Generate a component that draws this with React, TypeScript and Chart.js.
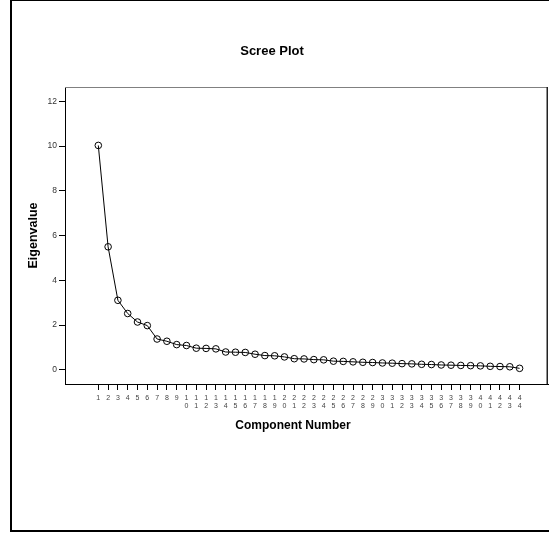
import { useEffect, useRef } from "react";
import { Chart, registerables } from "chart.js";

Chart.register(...registerables);

const chartTitle = "Scree Plot";
const xAxisTitle = "Component Number";
const yAxisTitle = "Eigenvalue";

const components = [
  1, 2, 3, 4, 5, 6, 7, 8, 9, 10, 11, 12, 13, 14, 15, 16, 17, 18, 19, 20, 21, 22,
  23, 24, 25, 26, 27, 28, 29, 30, 31, 32, 33, 34, 35, 36, 37, 38, 39, 40, 41, 42, 43, 44,
];

const eigenvalues = [
  10.03, 5.5, 3.11, 2.52, 2.14, 1.98, 1.38, 1.28, 1.13, 1.09, 0.97, 0.96, 0.94, 0.8,
  0.79, 0.78, 0.7, 0.64, 0.63, 0.58, 0.5, 0.49, 0.46, 0.45, 0.39, 0.38, 0.36, 0.34,
  0.33, 0.31, 0.3, 0.28, 0.27, 0.25, 0.24, 0.22, 0.21, 0.2, 0.19, 0.18, 0.16, 0.15,
  0.14, 0.07,
];

const yTicks = [0, 2, 4, 6, 8, 10, 12];

const FONT = "'Liberation Sans', Arial, Helvetica, sans-serif";

export default function App() {
  const canvasRef = useRef<HTMLCanvasElement | null>(null);

  useEffect(() => {
    const canvas = canvasRef.current;
    if (!canvas) return;

    const framePlugin = {
      id: "frameAndTitles",
      afterDraw(chart: any) {
        const { ctx, chartArea } = chart;
        const { left, top, right, bottom } = chartArea;
        ctx.save();
        // keep the area under the frame's bottom-right corner clean
        ctx.fillStyle = "#fff";
        ctx.fillRect(right - 4, bottom + 1, 6, 10);
        // top edge (grey) and right edge (dark) of the plot frame
        ctx.strokeStyle = "#808080";
        ctx.lineWidth = 1;
        ctx.beginPath();
        ctx.moveTo(left, top + 0.5);
        ctx.lineTo(right, top + 0.5);
        ctx.stroke();
        ctx.strokeStyle = "#222";
        ctx.lineWidth = 1.5;
        ctx.beginPath();
        ctx.moveTo(right - 0.75, top);
        ctx.lineTo(right - 0.75, bottom);
        ctx.stroke();

        ctx.fillStyle = "#000";
        ctx.textAlign = "center";
        ctx.textBaseline = "middle";
        ctx.font = `bold 13px ${FONT}`;
        ctx.fillText(chartTitle, 272, 51);
        ctx.font = `bold 12px ${FONT}`;
        ctx.fillText(xAxisTitle, 293, 425.5);
        ctx.translate(34, 235.5);
        ctx.rotate(-Math.PI / 2);
        ctx.font = `bold 12.5px ${FONT}`;
        ctx.fillText(yAxisTitle, 0, 0);
        ctx.restore();
      },
    };

    const chart = new Chart(canvas, {
      type: "line",
      data: {
        datasets: [
          {
            data: components.map((c, i) => ({ x: c, y: eigenvalues[i] })),
            borderColor: "#000",
            borderWidth: 1,
            tension: 0,
            pointRadius: 3.3,
            pointBorderWidth: 1,
            pointBorderColor: "#000",
            pointBackgroundColor: "rgba(0,0,0,0)",
            fill: false,
          },
        ],
      },
      options: {
        responsive: false,
        animation: false,
        events: [],
        layout: { autoPadding: false, padding: { top: 87, left: 0, right: 1, bottom: 0 } },
        plugins: {
          legend: { display: false },
          title: { display: false },
          tooltip: { enabled: false },
        },
        scales: {
          x: {
            type: "linear",
            min: -2.4,
            max: 46.9,
            afterBuildTicks: (scale: any) => {
              scale.ticks = components.map((v) => ({ value: v }));
            },
            afterFit: (scale: any) => {
              scale.height = 149;
            },
            ticks: {
              autoSkip: false,
              maxRotation: 0,
              minRotation: 0,
              padding: 4,
              color: "#444",
              font: { family: FONT, size: 7, lineHeight: 1.15 },
              callback: (value: any) => String(value).split(""),
            },
            grid: {
              drawOnChartArea: false,
              drawTicks: true,
              tickLength: 6,
              color: "#000",
              lineWidth: 1,
            },
            border: { display: true, color: "#000", width: 1 },
          },
          y: {
            type: "linear",
            min: -0.63,
            max: 12.64,
            afterBuildTicks: (scale: any) => {
              scale.ticks = yTicks.map((v) => ({ value: v }));
            },
            afterFit: (scale: any) => {
              scale.width = 65;
            },
            ticks: {
              padding: 2,
              color: "#333",
              font: { family: FONT, size: 8.5 },
              callback: (value: any) => String(value),
            },
            grid: {
              drawOnChartArea: false,
              drawTicks: true,
              tickLength: 6,
              color: "#000",
              lineWidth: 1,
            },
            border: { display: true, color: "#000", width: 1 },
          },
        },
      },
      plugins: [framePlugin],
    });

    return () => {
      chart.destroy();
    };
  }, []);

  return (
    <div
      style={{
        position: "fixed",
        left: 0,
        top: 0,
        width: 549,
        height: 533,
        overflow: "hidden",
        background: "#fff",
      }}
    >
      <canvas
        ref={canvasRef}
        width={549}
        height={533}
        style={{ position: "absolute", left: 0, top: 0, width: 549, height: 533 }}
      />
      <div
        style={{
          position: "absolute",
          left: 10,
          top: -1,
          width: 600,
          height: 533,
          border: "2px solid #000",
          boxSizing: "border-box",
          pointerEvents: "none",
        }}
      />
    </div>
  );
}
